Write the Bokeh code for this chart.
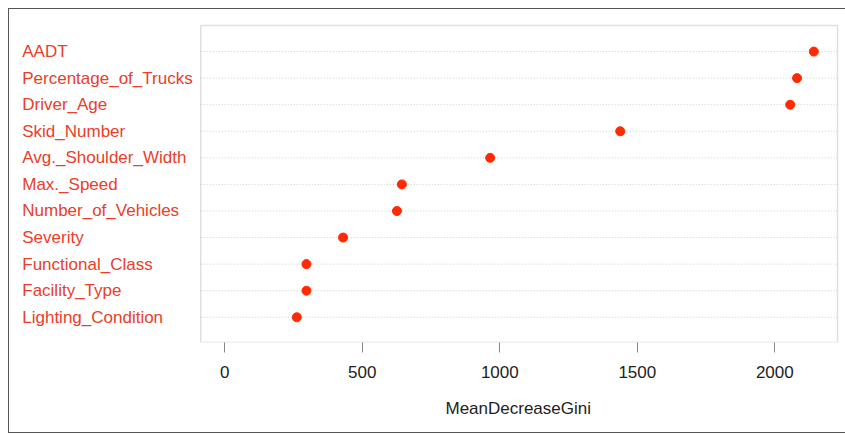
from bokeh.plotting import figure
from bokeh.models import ColumnDataSource, Range1d, FixedTicker, BoxAnnotation, Title
from bokeh.core.properties import value
from bokeh.embed import file_html
from bokeh.resources import INLINE

variables = ["Lighting_Condition", "Facility_Type", "Functional_Class", "Severity",
             "Number_of_Vehicles", "Max._Speed", "Avg._Shoulder_Width", "Skid_Number",
             "Driver_Age", "Percentage_of_Trucks", "AADT"]
gini = [262, 297, 297, 430, 626, 644, 965, 1438, 2056, 2081, 2142]
x_ticks = [0, 500, 1000, 1500, 2000]
x_title = "MeanDecreaseGini"

rows = list(range(1, len(variables) + 1))

# plotting-box extent (data units) and pixel scale
box_x0, box_x1 = -87.4, 2228
box_y0, box_y1 = 0.05, 11.98
px_per_x = 0.27465
px_per_y = 26.488
# frame extends beyond the box: 191px to the left, 9px right, 10px above
fx0 = box_x0 - 191 / px_per_x
fx1 = box_x1 + 9 / px_per_x
fy1 = box_y1 + 10 / px_per_y

src = ColumnDataSource(dict(name=variables, val=gini, row=rows,
                            xl=[box_x0] * len(rows), xr=[box_x1] * len(rows)))

FONT = "Liberation Sans"

p = figure(width=837, height=425, output_backend="svg", toolbar_location=None,
           x_range=Range1d(fx0, fx1), y_range=Range1d(box_y0, fy1),
           min_border_left=0, min_border_right=0, min_border_top=6, min_border_bottom=91,
           styles={"margin-left": "8px", "margin-top": "8px",
                   "border-left": "1px solid #555", "border-top": "1px solid #555",
                   "border-bottom": "1px solid #555"})

p.outline_line_color = None
p.xgrid.visible = False
p.ygrid.visible = False
p.yaxis.visible = False

# dotted row guide lines inside the box
p.segment(x0="xl", x1="xr", y0="row", y1="row", source=src,
          line_color="#cccccc", line_dash="1 2", line_width=1)

box = BoxAnnotation(left=box_x0, right=box_x1, bottom=box_y0, top=box_y1,
                    fill_alpha=0, line_color="#999999", line_width=1.5)
p.add_layout(box)

ax = p.xaxis[0]
ax.ticker = FixedTicker(ticks=x_ticks)
ax.axis_line_color = None
ax.major_tick_in = 0
ax.major_tick_out = 10
ax.major_tick_line_color = "#888888"
ax.minor_tick_line_color = None
ax.major_label_text_font = FONT
ax.major_label_text_font_size = "17px"
ax.major_label_text_color = "#222222"
ax.major_label_standoff = 13

# x-axis title centred under the plotting box (not the whole frame)
xt = Title(text=x_title, align="left", offset=436, standoff=33,
           text_font=FONT, text_font_size="17px", text_font_style="normal",
           text_color="#222222")
p.add_layout(xt, "below")

p.scatter(x="val", y="row", source=src, size=9, fill_color="#ff2a00",
          line_color="#ff2a00")

p.text(x="xl", y="row", text="name", source=src, x_offset=-178.5,
       text_font=value(FONT), text_font_size=value("17px"),
       text_color="#e8402a", text_baseline="middle", text_align="left")

open("out.html", "w").write(file_html(p, INLINE))
